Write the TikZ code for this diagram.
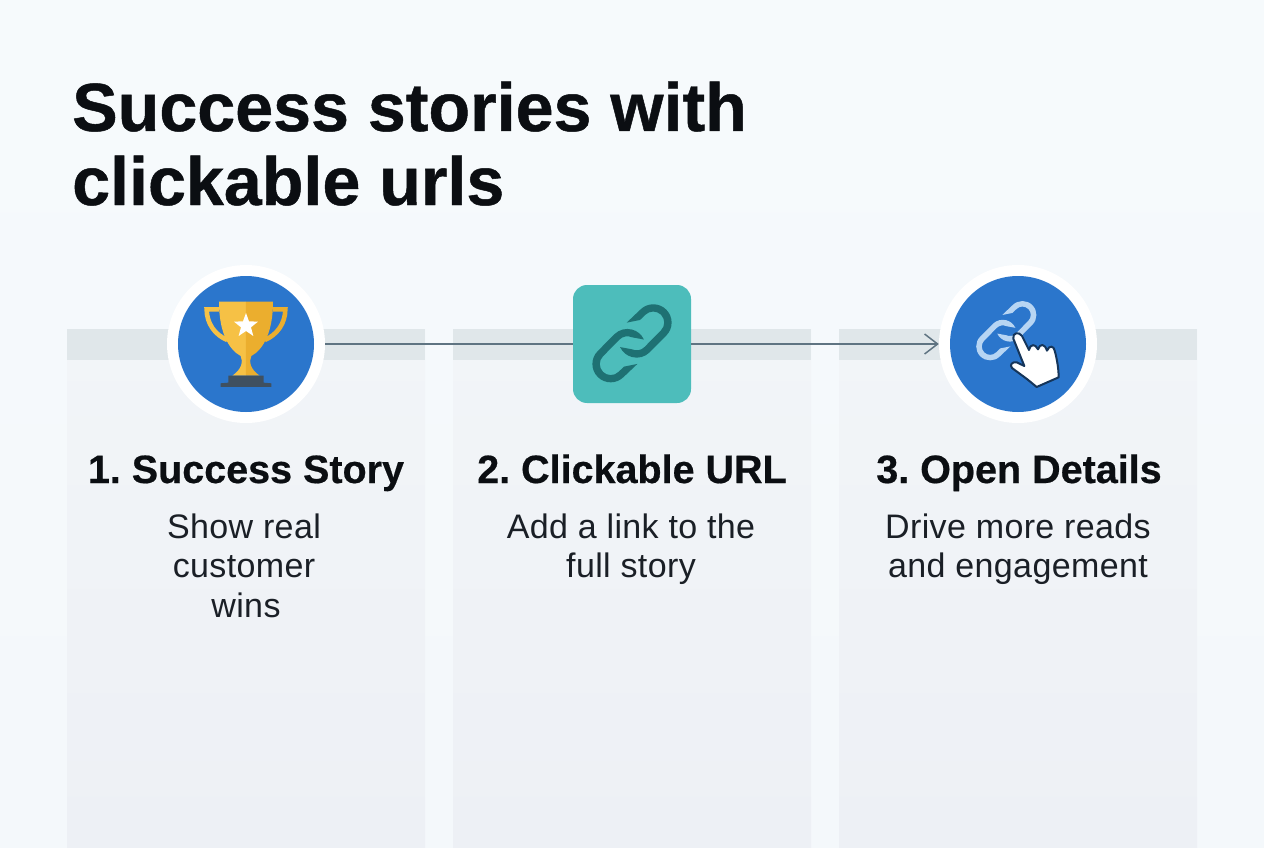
\documentclass[tikz,border=0pt]{standalone}
\usepackage{fontspec}
\setmainfont{Liberation Sans}
\newfontfamily\titlef[UprightFont={* Bold},UprightFeatures={FakeBold=0.7}]{Liberation Sans}
\newfontfamily\headf[UprightFont={* Bold},UprightFeatures={FakeBold=0.5}]{Liberation Sans}
\newfontfamily\bodyf[LetterSpace=1.1]{Liberation Sans}
\usetikzlibrary{arrows.meta}
\definecolor{bgtop}{HTML}{F6FAFC}
\definecolor{bgbot}{HTML}{F4F8FB}
\definecolor{coltop}{HTML}{F2F5F8}
\definecolor{colbot}{HTML}{EDF0F5}
\definecolor{band}{HTML}{E0E7EA}
\definecolor{blueA}{HTML}{2B76CC}
\definecolor{tealA}{HTML}{4DBDBB}
\definecolor{tealD}{HTML}{1E7173}
\definecolor{lineC}{HTML}{5F7482}
\definecolor{goldL}{HTML}{F6C145}
\definecolor{goldD}{HTML}{EBAE2E}
\definecolor{baseC}{HTML}{3F5060}
\definecolor{linkL}{HTML}{B7D5F3}
\definecolor{handC}{HTML}{15355A}
\definecolor{ink}{HTML}{0B0E12}
\definecolor{body}{HTML}{1A1F26}
\newcommand\chainpath{(-16,-62) -- (25,-101) arc[start angle=225,end angle=405,radius=55] -- (53,27) arc[start angle=45,end angle=155,radius=55] -- (0,18) arc[start angle=115,end angle=45,radius=33] -- (87,-39) arc[start angle=405,end angle=225,radius=33] -- (24,-70) -- cycle}
\tikzset{
  x=1pt,y=-1pt,
  ring/.style={circle,fill=white,minimum size=158pt,inner sep=0pt},
  disc/.style={circle,fill=blueA,minimum size=136pt,inner sep=0pt},
  tile/.style={rectangle,rounded corners=14pt,fill=tealA,minimum width=118pt,minimum height=118pt,inner sep=0pt},
  conn/.style={draw=lineC,line width=1.5pt},
  headtxt/.style={anchor=base,font=\fontsize{39.5}{39.5}\selectfont\headf\frenchspacing,text=ink,inner sep=0pt},
  bodytxt/.style={anchor=base,font=\fontsize{34}{34}\selectfont\bodyf\frenchspacing,text=body,inner sep=0pt},
  titletxt/.style={anchor=base west,font=\fontsize{68.2}{68.2}\selectfont\titlef,text=ink,inner sep=0pt},
}
\begin{document}
\begin{tikzpicture}
\useasboundingbox (0,0) rectangle (1264,848);
\shade[top color=bgtop,bottom color=bgbot] (0,0) rectangle (1264,848);
% columns
\foreach \cx in {67,453,839}{
  \shade[top color=coltop,bottom color=colbot] (\cx,329) rectangle ++(358,519);
  \fill[band] (\cx,329) rectangle ++(358,31);
}
% title
\node[titletxt] (t1) at (72,131) {Success stories with};
\node[titletxt] (t2) at (72,205) {clickable urls};
% nodes
\node[ring] (a) at (246,344) {};
\node[disc] (a2) at (246,344) {};
\node[tile] (b) at (632,344) {};
\node[ring] (c) at (1018,344) {};
\node[disc] (c2) at (1018,344) {};
% connectors
\draw[conn] (a) -- (b);
\draw[conn,-{Straight Barb[length=13pt,width=20pt,line width=1.5pt]}] (b) -- (c);
% trophy
\begin{scope}[shift={(150,260)},x=0.3333pt,y=-0.3333pt]
  \draw[goldL,line width=4.6pt] (207,148) -- (170,148) .. controls (170,190) and (195,225) .. (232,240);
  \draw[goldD,line width=4.6pt] (369,148) -- (406,148) .. controls (406,190) and (381,225) .. (344,240);
  \fill[goldL] (288,125) -- (207,125) .. controls (207,215) and (235,268) .. (272,288) .. controls (280,305) and (275,328) .. (247,347) -- (288,347) -- cycle;
  \fill[goldD] (288,125) -- (369,125) .. controls (369,215) and (341,268) .. (304,288) .. controls (296,305) and (301,328) .. (329,347) -- (288,347) -- cycle;
  \fill[baseC] (235,347) -- (341,347) -- (341,368) -- (364,370) -- (364,381) -- (212,381) -- (212,370) -- (235,368) -- cycle;
  \fill[white] (288,159) -- (297,184) -- (324,185) -- (303,202) -- (310,228) -- (288,213) -- (266,228) -- (273,202) -- (252,185) -- (279,184) -- cycle;
\end{scope}
% chain in tile
\begin{scope}[shift={(632,343.3)},x=0.3333pt,y=-0.3333pt]
  \fill[tealD] \chainpath;
\end{scope}
\begin{scope}[shift={(632,343.3)},x=-0.3333pt,y=0.3333pt]
  \fill[tealD] \chainpath;
\end{scope}
% chain in disc
\begin{scope}[shift={(1006.3,330.7)},x=0.2533pt,y=-0.2533pt]
  \fill[linkL] \chainpath;
\end{scope}
\begin{scope}[shift={(1006.3,330.7)},x=-0.2533pt,y=0.2533pt]
  \fill[linkL] \chainpath;
\end{scope}
% hand
\begin{scope}[shift={(910,260)},x=0.3333pt,y=-0.3333pt]
  \draw[fill=white,draw=handC,line width=2pt,line join=round]
   (310,236) .. controls (306,218) and (328,214) .. (336,228) -- (357,270)
   .. controls (360,252) and (376,250) .. (384,268)
   .. controls (390,250) and (404,250) .. (411,272)
   .. controls (418,254) and (432,258) .. (434,272)
   .. controls (442,300) and (446,330) .. (446,352)
   -- (380,381) -- (352,358) -- (306,324)
   .. controls (298,316) and (306,304) .. (320,307) -- (343,318) -- cycle;
\end{scope}
% text
\node[headtxt] (h1) at (246,483) {1. Success Story};
\node[headtxt] (h2) at (632,483) {2. Clickable URL};
\node[headtxt] (h3) at (1019,483) {3. Open Details};
\node[bodytxt] (d1a) at (244,538) {Show real};
\node[bodytxt] (d1b) at (244,577) {customer};
\node[bodytxt] (d1c) at (246,617) {wins};
\node[bodytxt] (d2a) at (631,538) {Add a link to the};
\node[bodytxt] (d2b) at (631,577) {full story};
\node[bodytxt] (d3a) at (1018,538) {Drive more reads};
\node[bodytxt] (d3b) at (1018,577) {and engagement};
\end{tikzpicture}
\end{document}
